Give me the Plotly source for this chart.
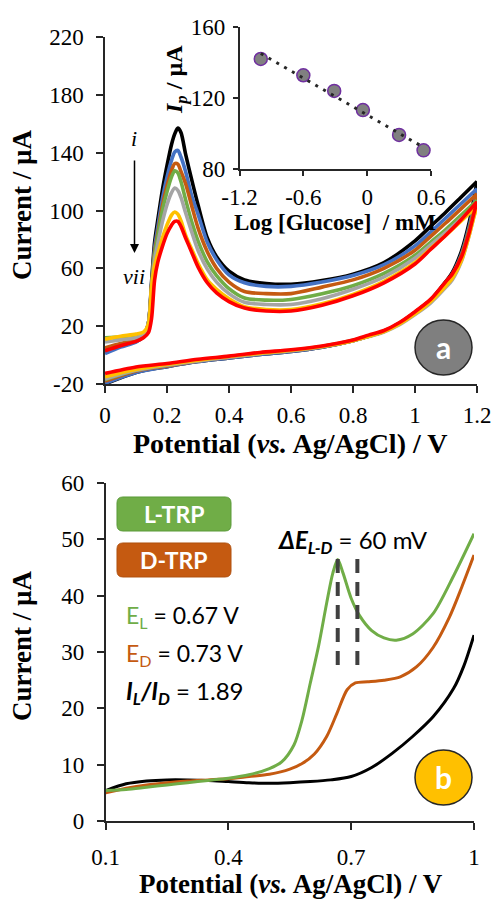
import plotly.graph_objects as go
import numpy as np

W, H = 493, 900
SERIF = "Liberation Serif, Times New Roman, serif"
SANS = "Lato, Carlito, Calibri, sans-serif"

# ---------------- Panel a data (CV curves i..vii) ----------------
fwd_pot = [0, 0.05, 0.10, 0.125, 0.14, 0.15, 0.16, 0.17, 0.185, 0.20, 0.215, 0.225, 0.235, 0.245,
           0.26, 0.28, 0.30, 0.33, 0.36, 0.40, 0.45, 0.52, 0.60, 0.70, 0.80, 0.90, 1.00, 1.05,
           1.10, 1.15, 1.20]
rev_pot = [1.20, 1.19, 1.175, 1.15, 1.12, 1.10, 1.05, 1.00, 0.95, 0.90, 0.85, 0.80, 0.70, 0.60,
           0.50, 0.40, 0.30, 0.20, 0.10, 0.0]

fwd_i = [3, 6.5, 9.5, 13, 22, 50, 78, 93, 114, 131, 146, 153, 157, 154, 139, 121, 104, 81, 68, 58,
         52, 49.5, 49, 51.5, 56, 64, 79, 89, 99, 109.5, 120]
fwd_ii = [1, 5.5, 9, 13, 22, 48, 74, 88, 108, 123, 135, 140.5, 141.5, 137, 127, 110, 97.5, 78, 66,
          55.5, 50, 47.5, 47.5, 50.5, 55, 62.5, 75.5, 85, 95, 105, 115]
fwd_iii = [5, 8, 10.5, 13.5, 22, 47, 71, 84, 103, 117, 128, 132.5, 132, 127, 118.5, 103, 88, 71.5,
           60, 50.5, 44, 42.5, 42.5, 47, 52, 60, 72.5, 82, 91.5, 101.5, 111.5]
fwd_iv = [12, 12.5, 12.5, 14, 22, 46, 69, 82, 100, 113, 123.5, 127.5, 126, 120, 107.5, 92, 79, 64.5,
          55, 46, 39.5, 38, 38.5, 42.5, 48, 56.5, 69, 78, 87, 97, 107]
fwd_v = [9, 10.5, 12, 14, 22, 45, 66, 77, 92, 104, 112.5, 115.5, 114, 109, 98.5, 85, 72.5, 59.5,
         50.5, 42.5, 36.5, 35, 35, 39, 45.5, 54, 67, 76, 85, 94.5, 104]
fwd_vi = [11, 13, 14.5, 16, 21.5, 47, 62, 70, 81, 90, 97, 99, 97.5, 93, 83, 73, 63.5, 52, 45.5, 39,
          33.5, 31.5, 31.5, 35.5, 42, 51, 64, 73.5, 83, 93, 103]
fwd_vii = [3, 6.5, 9.5, 12.2, 15.5, 25, 52, 64, 75, 84, 90, 92.5, 92.5, 89, 81, 71, 61, 50, 43, 37,
           32.5, 30.5, 30.5, 34.5, 41, 50, 63, 73, 83, 94, 106]

rev_i = [120, 108, 92, 72, 57, 51, 38, 29.5, 22, 16.5, 13, 10, 5.5, 2.5, 0.5, -2, -4.5, -8, -12, -20]
rev_ii = [115, 104, 89, 70, 56, 50.5, 38, 29.5, 22, 16.5, 13, 10, 5.5, 2.5, 0.5, -2, -4.5, -8, -12, -19.5]
rev_iii = [111.5, 101, 87, 69, 55.5, 50, 38, 29.5, 22, 16.5, 13, 10, 5.8, 3, 1, -1.5, -4, -7.5, -11, -18]
rev_iv = [107, 99, 86, 68, 55, 50, 38, 29.5, 22, 16.5, 13.2, 10.2, 6, 3.2, 1.2, -1.2, -3.8, -7, -10.5, -17]
rev_v = [104, 96, 83, 65, 52, 47, 36, 28, 21, 16, 12.8, 10, 5.8, 3, 1, -1.5, -4, -7, -10.5, -16.5]
rev_vi = [103, 95.5, 83, 65.5, 53, 48, 37, 28.5, 21.5, 16.2, 13, 10, 6, 3.3, 1.3, -1, -3.5, -6.5, -10, -15]
rev_vii = [106, 98, 85, 68, 56, 51, 38.5, 30, 22.5, 17, 13.8, 10.5, 6.3, 3.7, 1.8, -0.7, -2.9, -5.8, -8.2, -12.7]

curve_labels = ["i", "ii", "iii", "iv", "v", "vi", "vii"]
curve_colors = ["#000000", "#4472C4", "#C55A11", "#70AD47", "#A5A5A5", "#FFC000", "#FF0000"]
fwd_all = [fwd_i, fwd_ii, fwd_iii, fwd_iv, fwd_v, fwd_vi, fwd_vii]
rev_all = [rev_i, rev_ii, rev_iii, rev_iv, rev_v, rev_vi, rev_vii]

a_xticks = [0, 0.2, 0.4, 0.6, 0.8, 1.0, 1.2]
a_xticktext = ["0", "0.2", "0.4", "0.6", "0.8", "1", "1.2"]
a_yticks = [-20, 20, 60, 100, 140, 180, 220]
a_yticktext = ["-20", "20", "60", "100", "140", "180", "220"]

# ---------------- Inset data ----------------
log_glucose = [-1.0, -0.60, -0.31, -0.04, 0.30, 0.53]
peak_current = [142, 132.8, 124, 113.2, 99.2, 90.5]
in_xticks = [-1.2, -0.6, 0, 0.6]
in_xticktext = ["-1.2", "-0.6", "0", "0.6"]
in_yticks = [80, 120, 160]
in_yticktext = ["80", "120", "160"]

# ---------------- Panel b data (DPV) ----------------
blank_pot = [0.10, 0.15, 0.20, 0.25, 0.30, 0.35, 0.40, 0.45, 0.50, 0.55, 0.60, 0.65, 0.70, 0.75,
             0.80, 0.85, 0.90, 0.95, 0.975, 1.00]
blank_cur = [5.4, 6.6, 7.1, 7.3, 7.3, 7.2, 7.0, 6.8, 6.7, 6.8, 7.0, 7.3, 7.9, 9.5, 12.0, 15.0, 18.5,
             23.5, 27.5, 33.0]
ltrp_pot = [0.10, 0.15, 0.20, 0.25, 0.30, 0.35, 0.40, 0.45, 0.50, 0.53, 0.56, 0.58, 0.60, 0.62,
            0.64, 0.655, 0.667, 0.68, 0.70, 0.72, 0.75, 0.78, 0.81, 0.85, 0.90, 0.95, 1.00]
ltrp_cur = [5.4, 5.6, 6.0, 6.4, 6.8, 7.2, 7.6, 8.2, 9.3, 10.5, 13.5, 18.0, 24.5, 31.0, 38.7, 44.0,
            46.4, 44.0, 39.5, 36.5, 33.8, 32.5, 32.1, 33.2, 36.8, 43.5, 51.0]
dtrp_pot = [0.10, 0.15, 0.20, 0.25, 0.30, 0.35, 0.40, 0.45, 0.50, 0.55, 0.58, 0.61, 0.64, 0.665,
            0.69, 0.71, 0.74, 0.78, 0.82, 0.86, 0.90, 0.94, 0.97, 1.00]
dtrp_cur = [5.0, 5.8, 6.4, 6.8, 7.1, 7.3, 7.5, 7.9, 8.3, 9.2, 10.2, 11.9, 15.0, 19.1, 23.3, 24.5,
            24.7, 25.0, 25.6, 27.4, 30.8, 36.2, 41.5, 47.2]
marker_pot = [0.667, 0.715]
marker_cur = [[46.5, 27.3], [46.5, 27.3]]

b_xticks = [0.1, 0.4, 0.7, 1.0]
b_xticktext = ["0.1", "0.4", "0.7", "1"]
b_yticks = [0, 10, 20, 30, 40, 50, 60]
b_yticktext = ["0", "10", "20", "30", "40", "50", "60"]

# ---------------- Build figure ----------------
fig = go.Figure()

for lab, col, fy, ry in zip(curve_labels, curve_colors, fwd_all, rev_all):
    fig.add_trace(go.Scatter(x=fwd_pot, y=fy, mode="lines", xaxis="x", yaxis="y",
                             line=dict(color=col, width=3.6, shape="spline", smoothing=0.8),
                             name=lab, showlegend=False, hoverinfo="skip"))
    fig.add_trace(go.Scatter(x=rev_pot, y=ry, mode="lines", xaxis="x", yaxis="y",
                             line=dict(color=col, width=3.6, shape="spline", smoothing=0.8),
                             name=lab, showlegend=False, hoverinfo="skip"))

# inset
fig.add_trace(go.Scatter(x=log_glucose, y=peak_current, mode="markers", xaxis="x3", yaxis="y3",
                         marker=dict(size=13, color="#808080", line=dict(color="#7030A0", width=1.5)),
                         showlegend=False, hoverinfo="skip"))
coef = np.polyfit(log_glucose, peak_current, 1)
fit_x = [log_glucose[0], log_glucose[-1]]
fit_y = [float(np.polyval(coef, v)) for v in fit_x]
fig.add_trace(go.Scatter(x=fit_x, y=fit_y, mode="lines", xaxis="x3", yaxis="y3",
                         line=dict(color="#262626", width=3, dash="3px,6px"),
                         showlegend=False, hoverinfo="skip"))

# panel b
fig.add_trace(go.Scatter(x=blank_pot, y=blank_cur, mode="lines", xaxis="x2", yaxis="y2",
                         line=dict(color="#000000", width=3, shape="spline", smoothing=0.8),
                         showlegend=False, hoverinfo="skip"))
fig.add_trace(go.Scatter(x=dtrp_pot, y=dtrp_cur, mode="lines", xaxis="x2", yaxis="y2",
                         line=dict(color="#C55A11", width=3, shape="spline", smoothing=0.8),
                         showlegend=False, hoverinfo="skip"))
fig.add_trace(go.Scatter(x=ltrp_pot, y=ltrp_cur, mode="lines", xaxis="x2", yaxis="y2",
                         line=dict(color="#70AD47", width=3, shape="spline", smoothing=0.8),
                         showlegend=False, hoverinfo="skip"))
for mp, mc in zip(marker_pot, marker_cur):
    fig.add_trace(go.Scatter(x=[mp, mp], y=mc, mode="lines", xaxis="x2", yaxis="y2",
                             line=dict(color="#404040", width=4, dash="14px,9px"),
                             showlegend=False, hoverinfo="skip"))


def px(v):
    return v / W


def py(v):
    return 1 - v / H


axis_common = dict(showgrid=False, zeroline=False, ticks="outside", showline=True,
                   automargin=False,
                   linecolor="#262626", tickcolor="#262626", linewidth=1.5, tickwidth=1.5,
                   tickfont=dict(family=SERIF, size=23, color="#000000"), tickmode="array")

fig.update_layout(
    width=W, height=H, margin=dict(l=0, r=0, t=0, b=0, autoexpand=False),
    paper_bgcolor="white", plot_bgcolor="rgba(0,0,0,0)", showlegend=False,
    xaxis=dict(domain=[px(105), px(477)], anchor="y", range=[0, 1.2], tickvals=a_xticks,
               ticktext=a_xticktext, ticklen=7, ticklabelstandoff=3, **axis_common),
    yaxis=dict(domain=[py(384), py(37)], anchor="x", range=[-20, 220], tickvals=a_yticks,
               ticktext=a_yticktext, ticklen=7, ticklabelstandoff=8, **axis_common),
    xaxis2=dict(domain=[px(105.7), px(474)], anchor="y2", range=[0.1, 1.0], tickvals=b_xticks,
                ticktext=b_xticktext, ticklen=7, ticklabelstandoff=8, **axis_common),
    yaxis2=dict(domain=[py(821), py(483)], anchor="x2", range=[0, 60], tickvals=b_yticks,
                ticktext=b_yticktext, ticklen=7, ticklabelstandoff=8, **axis_common),
    xaxis3=dict(domain=[px(239.5), px(431)], anchor="y3", range=[-1.2, 0.6], tickvals=in_xticks,
                ticktext=in_xticktext, ticklen=5, ticklabelstandoff=2, **axis_common),
    yaxis3=dict(domain=[py(169), py(27)], anchor="x3", range=[80, 160], tickvals=in_yticks,
                ticktext=in_yticktext, ticklen=5, ticklabelstandoff=3, **axis_common),
)


def rounded_box(x0, y0, x1, y1, r):
    pts = [("M", x0 + r, y0), ("L", x1 - r, y0), ("Q", x1, y0, x1, y0 + r), ("L", x1, y1 - r),
           ("Q", x1, y1, x1 - r, y1), ("L", x0 + r, y1), ("Q", x0, y1, x0, y1 - r),
           ("L", x0, y0 + r), ("Q", x0, y0, x0 + r, y0)]
    s = ""
    for p in pts:
        cmd = p[0]
        coords = p[1:]
        parts = []
        for i in range(0, len(coords), 2):
            parts.append(f"{px(coords[i]):.5f},{py(coords[i + 1]):.5f}")
        s += cmd + " " + " ".join(parts) + " "
    return s + "Z"


shapes = [
    dict(type="path", xref="paper", yref="paper", path=rounded_box(117, 497, 231, 531, 6),
         fillcolor="#70AD47", line=dict(color="#5A9A38", width=1)),
    dict(type="path", xref="paper", yref="paper", path=rounded_box(117, 543, 231, 577, 6),
         fillcolor="#C55A11", line=dict(color="#B0500E", width=1)),
    dict(type="circle", xref="paper", yref="paper", x0=px(415), x1=px(472), y0=py(375), y1=py(320),
         fillcolor="#7F7F7F", line=dict(color="#262626", width=1.5)),
    dict(type="circle", xref="paper", yref="paper", x0=px(415), x1=px(472), y0=py(805), y1=py(750),
         fillcolor="#FFC000", line=dict(color="#262626", width=1.5)),
]
fig.update_layout(shapes=shapes)

ann = []


def add_text(x, y, text, size, family=SERIF, color="#000000", angle=0, xanchor="center",
             yanchor="middle"):
    ann.append(dict(x=px(x), y=py(y), xref="paper", yref="paper", text=text, showarrow=False,
                    font=dict(family=family, size=size, color=color), textangle=angle,
                    xanchor=xanchor, yanchor=yanchor, borderpad=0))


# axis titles
add_text(22, 205, "<b>Current / µA</b>", 27, angle=-90)
add_text(22, 646, "<b>Current / µA</b>", 27, angle=-90)
add_text(290, 443, "<b>Potential (<i>vs.</i> Ag/AgCl) / V</b>", 28)
add_text(291, 884, "<b>Potential (<i>vs.</i> Ag/AgCl) / V</b>", 27)
# inset titles
add_text(176, 80, "<b><i>I<sub>p</sub></i> / µA</b>", 24, angle=-90)
add_text(335, 222, "<b>Log [Glucose]  / mM</b>", 23)
# arrow labels
add_text(134, 138, "<i>i</i>", 22)
add_text(134, 276, "<i>vii</i>", 22)
ann.append(dict(x=px(134.5), y=py(253), ax=0, ay=-94, xref="paper", yref="paper",
                axref="pixel", ayref="pixel", text="", showarrow=True, arrowhead=2,
                arrowsize=1.2, arrowwidth=1.5, arrowcolor="#000000"))
# circle letters
add_text(443.5, 347, "<b>a</b>", 30, family=SANS, color="white")
add_text(443.5, 777, "<b>b</b>", 30, family=SANS, color="white")
# panel b labels
add_text(174, 514, "<b>L-TRP</b>", 23, family=SANS, color="white")
add_text(174, 560, "<b>D-TRP</b>", 23, family=SANS, color="white")
add_text(277, 541, "<b><i>ΔE<sub>L-D</sub></i></b> = 60 mV", 24, family=SANS, xanchor="left")
add_text(125, 616, "<span style='color:#70AD47'>E<sub>L</sub></span> = 0.67 V", 23, family=SANS,
         xanchor="left")
add_text(125, 654, "<span style='color:#C55A11'>E<sub>D</sub></span> = 0.73 V", 23, family=SANS,
         xanchor="left")
add_text(125, 692, "<b><i>I<sub>L</sub>/I<sub>D</sub></i></b> = 1.89", 24, family=SANS,
         xanchor="left")

fig.update_layout(annotations=ann)

fig.write_html("out.html")
